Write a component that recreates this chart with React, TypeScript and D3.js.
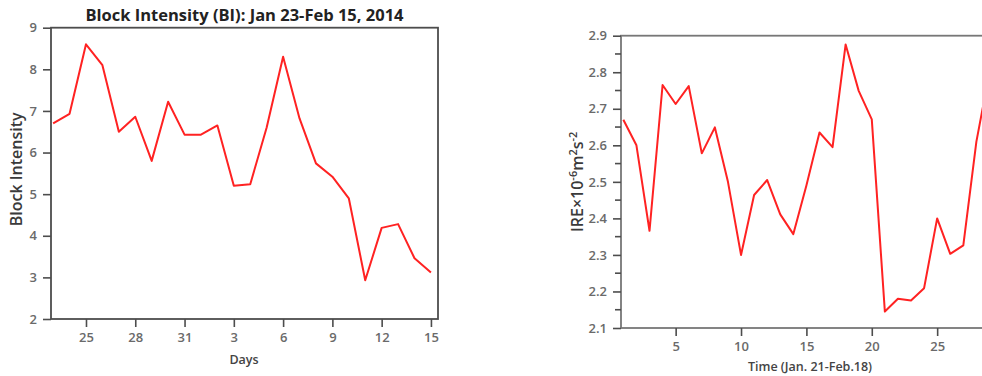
import React, { useEffect, useRef } from 'react';
import * as d3 from 'd3';

// left panel: Jan 23 - Feb 15, 2014
const biDays = [23, 24, 25, 26, 27, 28, 29, 30, 31, 1, 2, 3, 4, 5, 6, 7, 8, 9, 10, 11, 12, 13, 14, 15];
const biValues = [6.70, 6.93, 8.60, 8.10, 6.50, 6.86, 5.80, 7.22, 6.43, 6.43, 6.65, 5.20, 5.24, 6.60, 8.30, 6.82, 5.74, 5.42, 4.90, 2.93, 4.19, 4.28, 3.46, 3.12];
const biTickDays = [25, 28, 31, 3, 6, 9, 12, 15];
const biYTicks = [2, 3, 4, 5, 6, 7, 8, 9];

// right panel: Jan 21 - Feb 18
const ireTime = [1, 2, 3, 4, 5, 6, 7, 8, 9, 10, 11, 12, 13, 14, 15, 16, 17, 18, 19, 20, 21, 22, 23, 24, 25, 26, 27, 28, 29];
const ireValues = [2.67, 2.60, 2.366, 2.765, 2.713, 2.762, 2.578, 2.649, 2.50, 2.30, 2.464, 2.505, 2.411, 2.357, 2.49, 2.635, 2.595, 2.876, 2.749, 2.671, 2.145, 2.18, 2.175, 2.209, 2.40, 2.303, 2.326, 2.61, 2.80];
const ireXTicks = [5, 10, 15, 20, 25];
const ireYTicks = [2.1, 2.2, 2.3, 2.4, 2.5, 2.6, 2.7, 2.8, 2.9];

const FONT = '"Open Sans", "DejaVu Sans", sans-serif';
const RED = '#ff2222';
const AXIS = '#4d4d4d';
const TICKTEXT = '#6a6a6a';

const App = () => {
    const ref = useRef<SVGSVGElement>(null);
    useEffect(() => {
        const svg = d3.select(ref.current);
        svg.selectAll('*').remove();

        const styleAxis = (g: any) => {
            g.select('.domain').remove();
            g.selectAll('line').attr('stroke', AXIS).attr('stroke-width', 1.6);
            g.selectAll('text').attr('fill', TICKTEXT).attr('font-family', FONT)
                .attr('font-size', 13).attr('font-weight', 600);
        };

        // ---------- left panel ----------
        const L = { left: 51, right: 438, top: 27.7, bottom: 319 };
        const xL = d3.scaleLinear().domain([-0.13, 23.43]).range([L.left, L.right]);
        const yL = d3.scaleLinear().domain([2, 9]).range([L.bottom, L.top]);
        const gl = svg.append('g');

        gl.append('rect')
            .attr('x', L.left).attr('y', L.top)
            .attr('width', L.right - L.left).attr('height', L.bottom - L.top)
            .attr('fill', 'none').attr('stroke', AXIS).attr('stroke-width', 1.8);

        gl.append('g')
            .attr('transform', `translate(0,${L.bottom})`)
            .call(d3.axisBottom(xL)
                .tickValues(biTickDays.map(d => biDays.indexOf(d, 2)))
                .tickFormat((d: any) => String(biDays[d]))
                .tickSize(8).tickPadding(6))
            .call(styleAxis);

        gl.append('g')
            .attr('transform', `translate(${L.left},0)`)
            .call(d3.axisLeft(yL).tickValues(biYTicks).tickFormat(d3.format('d')).tickSize(8).tickPadding(6))
            .call(styleAxis);

        gl.append('path')
            .datum(biValues)
            .attr('fill', 'none').attr('stroke', RED).attr('stroke-width', 2)
            .attr('stroke-linejoin', 'round')
            .attr('d', d3.line<number>().x((d, i) => xL(i)).y(d => yL(d)));

        gl.append('text')
            .attr('x', (L.left + L.right) / 2).attr('y', 20.5)
            .attr('text-anchor', 'middle')
            .attr('font-family', FONT).attr('font-weight', 'bold').attr('font-size', 16.5)
            .attr('fill', '#222')
            .text('Block Intensity (BI): Jan 23-Feb 15, 2014');

        gl.append('text')
            .attr('transform', `translate(22,${(L.top + L.bottom) / 2 - 4}) rotate(-90)`)
            .attr('text-anchor', 'middle')
            .attr('font-family', FONT).attr('font-size', 16).attr('font-weight', 600).attr('fill', '#3a3a3a')
            .text('Block Intensity');

        gl.append('text')
            .attr('x', 244).attr('y', 364)
            .attr('text-anchor', 'middle')
            .attr('font-family', FONT).attr('font-size', 12.5).attr('font-weight', 600).attr('fill', '#444')
            .text('Days');

        // ---------- right panel ----------
        const R = { left: 621, right: 999, top: 35.7, bottom: 328 };
        const xR = d3.scaleLinear().domain([0.82, 29.73]).range([R.left, R.right]);
        const yR = d3.scaleLinear().domain([2.1, 2.9]).range([R.bottom, R.top]);
        const gr = svg.append('g');

        gr.append('rect')
            .attr('x', R.left).attr('y', R.top)
            .attr('width', R.right - R.left).attr('height', R.bottom - R.top)
            .attr('fill', 'none').attr('stroke', '#777').attr('stroke-width', 1.8);

        gr.append('g')
            .attr('transform', `translate(0,${R.bottom})`)
            .call(d3.axisBottom(xR).tickValues(ireXTicks).tickFormat(d3.format('d')).tickSize(8).tickPadding(6))
            .call(styleAxis);

        gr.append('g')
            .attr('transform', `translate(${R.left},0)`)
            .call(d3.axisLeft(yR).tickValues(ireYTicks).tickFormat(d3.format('.1f')).tickSize(8).tickPadding(6))
            .call(styleAxis);

        // minor ticks between the labelled ones
        gr.append('g')
            .selectAll('line')
            .data(ireYTicks.slice(1).map((d, i) => (d + ireYTicks[i]) / 2))
            .join('line')
            .attr('x1', R.left - 6).attr('x2', R.left)
            .attr('y1', d => yR(d)).attr('y2', d => yR(d))
            .attr('stroke', AXIS).attr('stroke-width', 1.6);

        gr.append('path')
            .datum(ireValues)
            .attr('fill', 'none').attr('stroke', RED).attr('stroke-width', 2)
            .attr('stroke-linejoin', 'round')
            .attr('d', d3.line<number>().x((d, i) => xR(ireTime[i])).y(d => yR(d)));

        const ylab = gr.append('text')
            .attr('transform', `translate(583,${(R.top + R.bottom) / 2}) rotate(-90)`)
            .attr('text-anchor', 'middle')
            .attr('font-family', FONT).attr('font-size', 16).attr('font-weight', 600).attr('fill', '#3a3a3a');
        ylab.append('tspan').text('IRE×10');
        ylab.append('tspan').attr('dy', -6).attr('font-size', 11).text('-6');
        ylab.append('tspan').attr('dy', 6).text('m');
        ylab.append('tspan').attr('dy', -6).attr('font-size', 11).text('2');
        ylab.append('tspan').attr('dy', 6).text('s');
        ylab.append('tspan').attr('dy', -6).attr('font-size', 11).text('-2');

        gr.append('text')
            .attr('x', 810).attr('y', 371)
            .attr('text-anchor', 'middle')
            .attr('font-family', FONT).attr('font-size', 12.5).attr('font-weight', 600).attr('fill', '#444')
            .text('Time (Jan. 21-Feb.18)');
    }, []);

    return (
        <svg ref={ref} width={982} height={376}
            style={{ position: 'absolute', left: 0, top: 0, background: '#fff', overflow: 'hidden' }} />
    );
};

export default App;
